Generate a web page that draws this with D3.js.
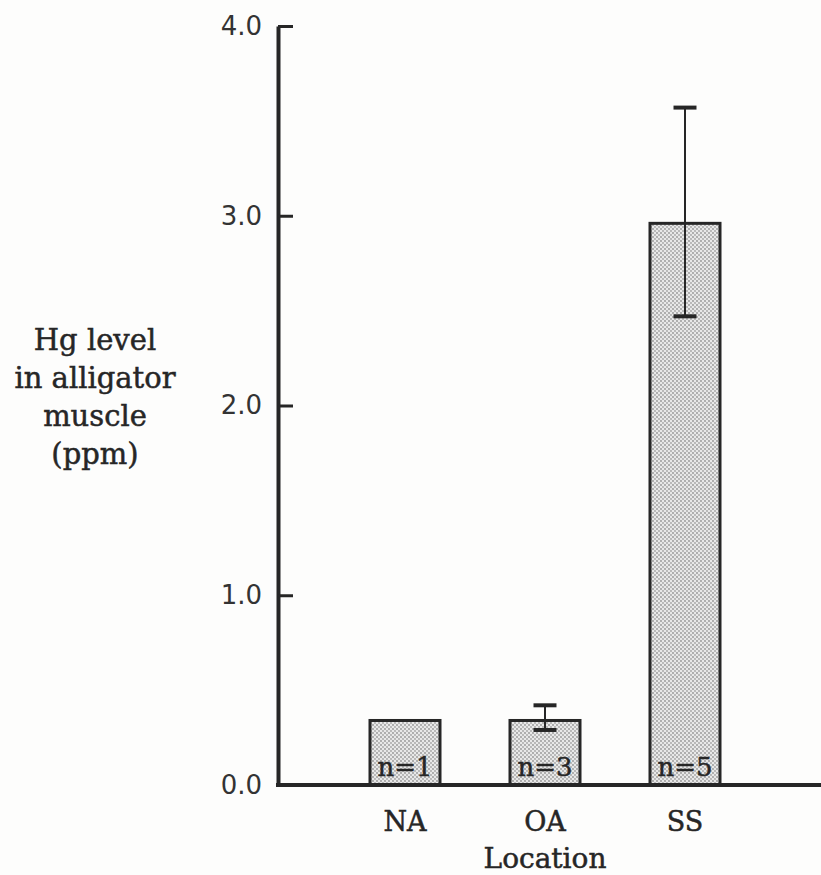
<!DOCTYPE html>
<html>
<head>
<meta charset="utf-8">
<script src="https://cdn.jsdelivr.net/npm/d3@7"></script>
<style>
  html, body { margin: 0; padding: 0; background: #fdfdfc; }
  svg { display: block; }
</style>
</head>
<body>
<svg id="chart" width="821" height="875"></svg>
<script>
// Mean mercury level in alligator muscle by location, with error range
const locations = ["NA", "OA", "SS"];
const meanHg = [0.34, 0.34, 2.96];
const errLow = [null, 0.29, 2.47];
const errHigh = [null, 0.42, 3.57];
const sampleSizes = [1, 3, 5];
const yTicks = [0, 1, 2, 3, 4];
const yLabelLines = ["Hg level", "in alligator", "muscle", "(ppm)"];
const xTitle = "Location";

const ink = "#262626";
const serif = "'DejaVu Serif', 'Liberation Serif', serif";

const svg = d3.select("#chart");
const axisX = 278, baseY = 785, topY = 26;

const y = d3.scaleLinear().domain([0, 4]).range([baseY, topY]);
const x = d3.scaleBand().domain(locations).range([335, 755])
  .paddingInner(0.5).paddingOuter(0.25);

// heavier serif text, like an old typeset figure
const serifText = sel => sel
  .attr("font-family", serif)
  .attr("fill", ink)
  .attr("stroke", ink)
  .attr("stroke-width", 0.5);

// stippled fill for the bars
const defs = svg.append("defs");
const pat = defs.append("pattern").attr("id", "stipple")
  .attr("width", 4).attr("height", 4).attr("patternUnits", "userSpaceOnUse");
pat.append("rect").attr("width", 4).attr("height", 4).attr("fill", "#e8e8e8");
pat.append("circle").attr("cx", 1).attr("cy", 1).attr("r", 0.9).attr("fill", "#939393");
pat.append("circle").attr("cx", 3).attr("cy", 3).attr("r", 0.9).attr("fill", "#a3a3a3");

const rows = locations.map((loc, i) => ({
  loc, mean: meanHg[i], lo: errLow[i], hi: errHigh[i], n: sampleSizes[i]
}));

// bars
svg.append("g").selectAll("rect").data(rows).join("rect")
  .attr("x", d => x(d.loc))
  .attr("y", d => y(d.mean))
  .attr("width", x.bandwidth())
  .attr("height", d => y(0) - y(d.mean))
  .attr("fill", "url(#stipple)")
  .attr("stroke", ink)
  .attr("stroke-width", 3);

// error bars
const eb = svg.append("g").selectAll("g").data(rows.filter(d => d.lo != null)).join("g")
  .attr("transform", d => `translate(${x(d.loc) + x.bandwidth() / 2},0)`);
eb.append("line")
  .attr("y1", d => y(d.hi)).attr("y2", d => y(d.lo))
  .attr("stroke", ink).attr("stroke-width", 2);
eb.selectAll("line.cap").data(d => [d.hi, d.lo]).join("line")
  .attr("class", "cap")
  .attr("x1", -11.5).attr("x2", 11.5)
  .attr("y1", v => y(v)).attr("y2", v => y(v))
  .attr("stroke", ink).attr("stroke-width", 4);

// sample size labels inside bars
svg.append("g").selectAll("text").data(rows).join("text")
  .attr("x", d => x(d.loc) + x.bandwidth() / 2)
  .attr("y", baseY - 9)
  .attr("text-anchor", "middle")
  .attr("font-size", 26)
  .call(serifText)
  .text(d => `n=${d.n}`);

// y axis with inward ticks
const yAxis = d3.axisLeft(y).tickValues(yTicks).tickFormat(d3.format(".1f"))
  .tickSizeInner(-15).tickSizeOuter(0).tickPadding(16);
const gy = svg.append("g").attr("transform", `translate(${axisX},0)`).call(yAxis);
gy.select(".domain").attr("stroke", ink).attr("stroke-width", 4);
gy.selectAll(".tick line").attr("stroke", ink).attr("stroke-width", 3);
gy.selectAll(".tick text")
  .attr("font-family", "'DejaVu Sans', sans-serif")
  .attr("font-size", 26)
  .attr("fill", "#333");

// x axis: thick baseline and category labels
const xAxis = d3.axisBottom(x).tickSize(0).tickPadding(27);
const gx = svg.append("g").attr("transform", `translate(0,${baseY})`).call(xAxis);
gx.select(".domain").remove();
gx.selectAll(".tick text")
  .attr("font-size", 27)
  .call(serifText);
svg.append("line")
  .attr("x1", axisX - 2).attr("x2", 821)
  .attr("y1", baseY).attr("y2", baseY)
  .attr("stroke", ink).attr("stroke-width", 4);

// axis titles
svg.append("text")
  .attr("x", x("OA") + x.bandwidth() / 2)
  .attr("y", 868)
  .attr("text-anchor", "middle")
  .attr("font-size", 28)
  .call(serifText)
  .text(xTitle);

svg.append("g").selectAll("text").data(yLabelLines).join("text")
  .attr("x", 95)
  .attr("y", (d, i) => 350 + i * 38)
  .attr("text-anchor", "middle")
  .attr("font-size", 29)
  .call(serifText)
  .text(d => d);
</script>
</body>
</html>
